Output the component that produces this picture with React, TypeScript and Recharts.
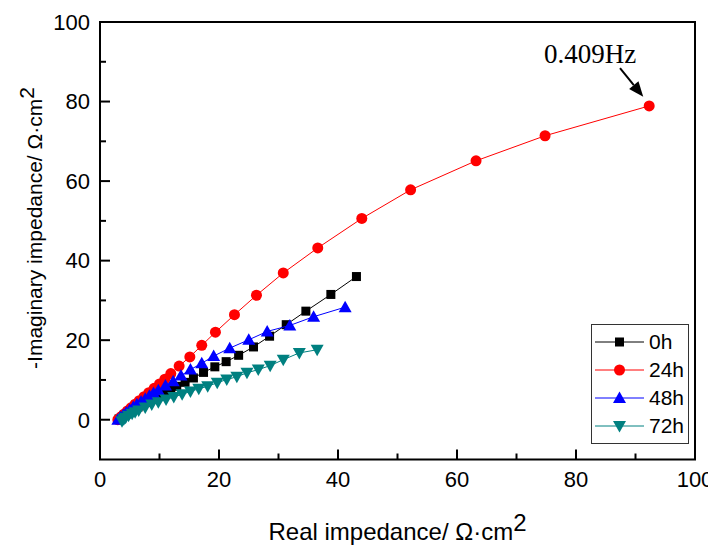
import { Legend, ReferenceArea, ReferenceLine, Scatter, ScatterChart, XAxis, YAxis } from "recharts";

// Nyquist data (Z' and -Z'' in ohm*cm2)
const re0h = [3.2, 3.8, 4.4, 5.0, 5.7, 6.4, 7.2, 8.0, 8.9, 9.9, 10.9, 11.9, 12.9, 14.3, 15.7, 17.4, 19.3, 21.2, 23.3, 25.8, 28.5, 31.3, 34.6, 38.8, 43.1];
const im0h = [0.2, 0.8, 1.4, 2.0, 2.6, 3.2, 3.8, 4.4, 5.1, 5.9, 6.7, 7.6, 8.4, 9.4, 10.5, 11.9, 13.3, 14.6, 16.2, 18.3, 21.0, 23.9, 27.3, 31.5, 36.0];

const re24h = [3.0, 3.5, 4.0, 4.6, 5.2, 5.9, 6.6, 7.4, 8.2, 9.1, 10.0, 10.9, 11.9, 13.3, 15.1, 17.1, 19.4, 22.6, 26.3, 30.8, 36.6, 44.0, 52.2, 63.2, 74.8, 92.3];
const im24h = [0.0, 0.7, 1.4, 2.2, 3.0, 3.9, 4.8, 5.8, 6.8, 7.9, 9.0, 10.2, 11.6, 13.5, 15.8, 18.7, 22.0, 26.4, 31.3, 36.9, 43.2, 50.6, 57.8, 65.1, 71.4, 78.9];

const re48h = [3.0, 3.4, 3.9, 4.4, 5.0, 5.6, 6.2, 6.9, 7.6, 8.3, 9.0, 9.8, 11.0, 12.3, 13.6, 15.2, 17.1, 19.1, 21.8, 25.0, 28.1, 31.9, 35.9, 41.2];
const im48h = [0.0, 0.6, 1.2, 1.8, 2.5, 3.2, 3.9, 4.6, 5.3, 6.0, 6.7, 7.4, 8.6, 9.7, 11.1, 12.6, 14.2, 16.0, 18.0, 20.1, 22.2, 23.7, 25.9, 28.3];

const re72h = [3.7, 4.0, 4.3, 4.8, 5.4, 5.9, 6.5, 7.6, 8.7, 9.8, 11.1, 12.4, 13.8, 15.2, 16.6, 18.1, 19.7, 21.3, 23.0, 24.7, 26.6, 28.6, 30.8, 33.5, 36.5];
const im72h = [-0.4, 0.1, 0.5, 1.0, 1.5, 1.9, 2.3, 3.1, 3.8, 4.4, 5.1, 5.7, 6.4, 7.1, 7.8, 8.4, 9.3, 10.1, 10.8, 11.8, 12.6, 13.6, 15.1, 16.8, 17.6];

const xDomain = [0, 100];
const yDomain = [-10, 100];
const xLabels = [0, 20, 40, 60, 80, 100];
const yLabels = [0, 20, 40, 60, 80, 100];
const xTickMarks = [10, 20, 30, 40, 50, 60, 70, 80, 90];
const yTickMarks = [0, 10, 20, 30, 40, 50, 60, 70, 80, 90];

const arrowFrom = { x: 87.4, y: 88.4 };
const arrowTo = { x: 91.3, y: 81.2 };
const freqLabel = "0.409Hz";

const toPoints = (re: number[], im: number[]) => re.map((x, i) => ({ x, y: im[i] }));

const series = [
  { name: "0h", kind: "square", color: "#000000", data: toPoints(re0h, im0h) },
  { name: "24h", kind: "circle", color: "#ff0000", data: toPoints(re24h, im24h) },
  { name: "48h", kind: "triangle", color: "#0000ff", data: toPoints(re48h, im48h) },
  { name: "72h", kind: "down", color: "#008080", data: toPoints(re72h, im72h) },
];

const FONT = "'Liberation Sans', Arial, sans-serif";
const tickFont = { fontFamily: FONT, fontSize: 22, fill: "#000" };

function drawMarker(kind: string, color: string, cx: number, cy: number) {
  if (kind === "square") return <rect x={cx - 4.5} y={cy - 4.5} width={9} height={9} fill={color} />;
  if (kind === "circle") return <circle cx={cx} cy={cy} r={5.5} fill={color} />;
  if (kind === "triangle")
    return <polygon points={`${cx},${cy - 6.5} ${cx + 6.5},${cy + 5} ${cx - 6.5},${cy + 5}`} fill={color} />;
  return <polygon points={`${cx},${cy + 6.5} ${cx + 6.5},${cy - 5} ${cx - 6.5},${cy - 5}`} fill={color} />;
}

const markerShape = (kind: string, color: string) => (props: any) => {
  if (props.cx == null || props.cy == null) return <g />;
  return drawMarker(kind, color, props.cx, props.cy);
};

const tickLen = (v: number) => (v % 20 === 0 ? 10 : 6);

// inward tick on the bottom edge; the segment spans the plot height
const xTickShape = (v: number) => (props: any) => {
  const yb = Math.max(props.y1, props.y2);
  return <path d={`M${props.x1},${yb}V${yb - tickLen(v)}`} stroke="#000" strokeWidth={2} fill="none" />;
};

// inward tick on the left edge; the segment spans the plot width
const yTickShape = (v: number) => (props: any) => {
  const xl = Math.min(props.x1, props.x2);
  return <path d={`M${xl},${props.y1}H${xl + tickLen(v)}`} stroke="#000" strokeWidth={2} fill="none" />;
};

function XTitle(props: any) {
  const vb = props.viewBox;
  return (
    <text x={vb.x + vb.width / 2} y={vb.y + 80} textAnchor="middle" fontFamily={FONT} fontSize={24} fill="#000">
      Real impedance/ Ω·cm<tspan dy={-9}>2</tspan>
    </text>
  );
}

function YTitle(props: any) {
  const vb = props.viewBox;
  const cx = 34;
  const cy = vb.y + 206;
  return (
    <text
      x={cx}
      y={cy}
      transform={`rotate(-90, ${cx}, ${cy})`}
      textAnchor="middle"
      fontFamily={FONT}
      fontSize={21}
      fill="#000"
    >
      -Imaginary impedance/ Ω·cm<tspan dy={-8}>2</tspan>
    </text>
  );
}

function ArrowShape(props: any) {
  const { x1, y1, x2, y2 } = props;
  const dx = x2 - x1;
  const dy = y2 - y1;
  const len = Math.sqrt(dx * dx + dy * dy);
  const ux = dx / len;
  const uy = dy / len;
  const head = 15;
  const bx = x2 - ux * head;
  const by = y2 - uy * head;
  return (
    <g>
      <line x1={x1} y1={y1} x2={bx} y2={by} stroke="#000" strokeWidth={2} />
      <polygon points={`${x2},${y2} ${bx - uy * 6},${by + ux * 6} ${bx + uy * 6},${by - ux * 6}`} fill="#000" />
      <text
        x={x1 - 30}
        y={y1 - 5}
        textAnchor="middle"
        fontFamily="'Liberation Serif', 'Times New Roman', serif"
        fontSize={27}
        fill="#000"
      >
        {freqLabel}
      </text>
    </g>
  );
}

function LegendBox() {
  return (
    <div style={{ border: "1px solid #333", background: "#fff", width: 96, padding: "3px 0" }}>
      {series.map((s) => (
        <div key={s.name} style={{ display: "flex", alignItems: "center", height: 28 }}>
          <svg width={54} height={20} style={{ marginLeft: 2 }}>
            <line x1={1} y1={10} x2={50} y2={10} stroke={s.color} strokeWidth={1} />
            {drawMarker(s.kind, s.color, 25.5, 10)}
          </svg>
          <span style={{ fontFamily: FONT, fontSize: 21, color: "#000", marginLeft: 1 }}>{s.name}</span>
        </div>
      ))}
    </div>
  );
}

export default function App() {
  return (
    <ScatterChart width={708} height={539} margin={{ top: 14, right: 21, left: 0, bottom: 0 }}>
      <XAxis
        type="number"
        dataKey="x"
        xAxisId="bottom"
        domain={xDomain}
        ticks={xLabels}
        tickSize={0}
        tickMargin={12}
        tick={tickFont}
        tickLine={false}
        axisLine={false}
        height={87.5}
        label={XTitle}
      />
      <YAxis
        type="number"
        dataKey="y"
        yAxisId="left"
        domain={yDomain}
        ticks={yLabels}
        tickSize={0}
        tickMargin={10}
        tick={tickFont}
        tickLine={false}
        axisLine={false}
        width={92}
        label={YTitle}
      />
      <ReferenceArea
        xAxisId="bottom"
        yAxisId="left"
        x1={xDomain[0]}
        x2={xDomain[1]}
        y1={yDomain[0]}
        y2={yDomain[1]}
        fill="none"
        stroke="#000"
        strokeWidth={2}
        ifOverflow="visible"
      />
      {xTickMarks.map((v) => (
        <ReferenceLine
          key={`xt${v}`}
          xAxisId="bottom"
          yAxisId="left"
          segment={[{ x: v, y: yDomain[0] }, { x: v, y: yDomain[1] }]}
          shape={xTickShape(v)}
          ifOverflow="visible"
        />
      ))}
      {yTickMarks.map((v) => (
        <ReferenceLine
          key={`yt${v}`}
          xAxisId="bottom"
          yAxisId="left"
          segment={[{ x: xDomain[0], y: v }, { x: xDomain[1], y: v }]}
          shape={yTickShape(v)}
          ifOverflow="visible"
        />
      ))}
      <Legend
        layout="vertical"
        align="center"
        verticalAlign="middle"
        content={<LegendBox />}
        wrapperStyle={{ left: 583, top: 316, width: 98 }}
      />
      {series.map((s) => (
        <Scatter
          key={s.name}
          name={s.name}
          data={s.data}
          xAxisId="bottom"
          yAxisId="left"
          fill={s.color}
          line={{ stroke: s.color, strokeWidth: 1 }}
          shape={markerShape(s.kind, s.color)}
          isAnimationActive={false}
        />
      ))}
      <ReferenceLine
        xAxisId="bottom"
        yAxisId="left"
        segment={[arrowFrom, arrowTo]}
        shape={ArrowShape}
        ifOverflow="visible"
      />
    </ScatterChart>
  );
}
